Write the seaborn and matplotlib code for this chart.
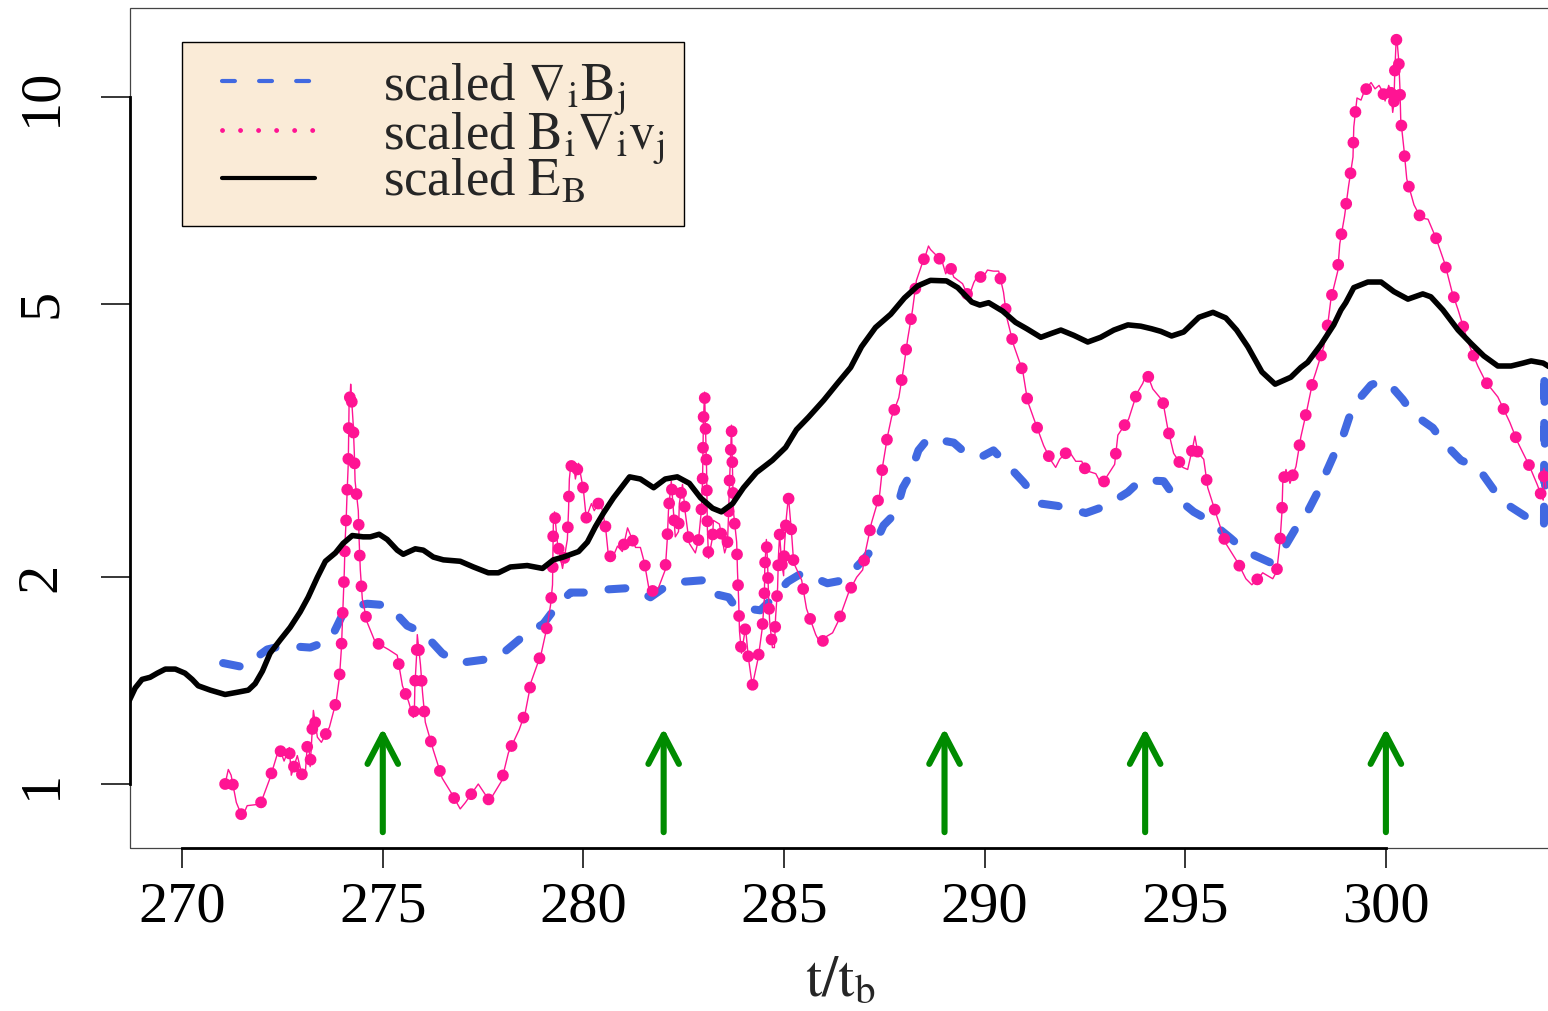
import matplotlib
matplotlib.use("Agg")
import matplotlib.pyplot as plt
import seaborn as sns
import pandas as pd
from matplotlib.lines import Line2D
from matplotlib.legend_handler import HandlerLine2D
from matplotlib.patches import FancyArrowPatch, Rectangle, ArrowStyle

# ---- scaled magnetic energy E_B ----
eb_t = [268.62, 268.83, 269.00, 269.20, 269.38, 269.58, 269.83, 270.07, 270.25, 270.40,
        270.70, 271.07, 271.37, 271.65, 271.82, 272.00, 272.19, 272.44, 272.69, 272.94,
        273.14, 273.37, 273.57, 273.82, 274.01, 274.24, 274.51, 274.69, 274.91, 275.11,
        275.36, 275.51, 275.81, 276.01, 276.26, 276.51, 276.93, 277.26, 277.63, 277.88,
        278.18, 278.60, 278.98, 279.25, 279.50, 279.88, 280.10, 280.30, 280.50, 280.75,
        281.15, 281.42, 281.75, 282.04, 282.34, 282.64, 282.92, 283.22, 283.44, 283.72,
        283.99, 284.31, 284.71, 285.04, 285.31, 285.61, 285.99, 286.33, 286.66, 286.93,
        287.28, 287.66, 288.00, 288.33, 288.65, 289.05, 289.33, 289.68, 289.88, 290.10,
        290.45, 290.77, 291.05, 291.40, 291.67, 291.90, 292.22, 292.57, 292.89, 293.22,
        293.57, 293.89, 294.16, 294.39, 294.66, 294.96, 295.34, 295.69, 296.01, 296.28,
        296.56, 296.91, 297.24, 297.63, 297.88, 298.05, 298.38, 298.70, 298.88, 299.00,
        299.20, 299.55, 299.88, 300.20, 300.55, 300.92, 301.12, 301.42, 301.80, 302.12,
        302.44, 302.79, 303.12, 303.42, 303.62, 303.92, 304.16]
eb_val = [1.30, 1.38, 1.42, 1.43, 1.45, 1.47, 1.47, 1.45, 1.42, 1.39,
          1.37, 1.35, 1.36, 1.37, 1.40, 1.46, 1.55, 1.62, 1.69, 1.78,
          1.87, 2.00, 2.11, 2.17, 2.24, 2.30, 2.29, 2.29, 2.31, 2.27,
          2.19, 2.16, 2.20, 2.19, 2.14, 2.12, 2.11, 2.07, 2.03, 2.03,
          2.07, 2.08, 2.06, 2.12, 2.14, 2.18, 2.25, 2.37, 2.48, 2.61,
          2.80, 2.78, 2.70, 2.78, 2.80, 2.74, 2.61, 2.52, 2.49, 2.56,
          2.70, 2.84, 2.96, 3.09, 3.28, 3.42, 3.62, 3.83, 4.04, 4.33,
          4.62, 4.83, 5.10, 5.31, 5.41, 5.40, 5.28, 5.03, 4.98, 5.02,
          4.88, 4.70, 4.60, 4.47, 4.53, 4.58, 4.50, 4.40, 4.47, 4.58,
          4.66, 4.64, 4.60, 4.56, 4.49, 4.55, 4.78, 4.86, 4.77, 4.58,
          4.33, 3.98, 3.82, 3.91, 4.04, 4.11, 4.36, 4.66, 4.90, 5.02,
          5.28, 5.38, 5.38, 5.21, 5.08, 5.17, 5.12, 4.90, 4.58, 4.38,
          4.20, 4.06, 4.06, 4.10, 4.13, 4.10, 4.02]

# ---- scaled grad_i B_j ----
gb_t = [271.02, 271.52, 272.12, 272.52, 273.19, 273.69, 274.01, 274.19, 274.61, 275.14,
        275.61, 276.01, 276.48, 276.88, 277.63, 278.05, 278.60, 279.00, 279.38, 279.68,
        280.17, 280.60, 281.22, 281.67, 282.22, 282.49, 282.99, 283.12, 283.62, 283.79,
        284.41, 284.66, 285.09, 285.46, 286.08, 286.48, 286.98, 287.23, 287.48, 287.78,
        287.96, 288.13, 288.35, 288.60, 289.23, 289.53, 289.90, 290.22, 290.70, 290.97,
        291.40, 291.82, 292.52, 293.02, 293.57, 293.89, 294.46, 294.71, 295.21, 295.59,
        296.13, 296.51, 297.13, 297.43, 297.76, 298.00, 298.30, 298.45, 298.70, 298.90,
        299.08, 299.25, 299.63, 299.88, 300.07, 300.42, 300.67, 301.17, 301.42, 301.87,
        302.29, 302.69, 302.94, 303.54, 303.94, 303.95, 303.97]
gb_val = [1.50, 1.48, 1.57, 1.59, 1.58, 1.62, 1.77, 1.81, 1.83, 1.82,
          1.70, 1.66, 1.55, 1.50, 1.52, 1.56, 1.66, 1.71, 1.83, 1.90,
          1.90, 1.92, 1.93, 1.87, 1.97, 1.97, 1.98, 1.90, 1.87, 1.81,
          1.79, 1.85, 1.97, 2.03, 1.96, 1.98, 2.12, 2.21, 2.38, 2.48,
          2.70, 2.81, 3.06, 3.19, 3.14, 3.03, 2.99, 3.06, 2.86, 2.75,
          2.56, 2.54, 2.48, 2.54, 2.66, 2.77, 2.76, 2.63, 2.49, 2.42,
          2.28, 2.18, 2.10, 2.19, 2.36, 2.46, 2.66, 2.79, 3.01, 3.17,
          3.41, 3.59, 3.81, 3.86, 3.83, 3.63, 3.46, 3.30, 3.15, 2.96,
          2.89, 2.68, 2.57, 2.44, 2.37, 4.00, 2.56]

# ---- scaled B_i grad_i v_j ----
bv_t = [271.07, 271.15, 271.22, 271.35, 271.50, 271.62, 271.95, 272.19, 272.42, 272.54,
        272.67, 272.72, 272.87, 272.99, 273.07, 273.12, 273.17, 273.19, 273.27, 273.37,
        273.47, 273.67, 273.84, 273.92, 273.97, 274.01, 274.04, 274.06, 274.09, 274.11,
        274.14, 274.15, 274.16, 274.19, 274.20, 274.26, 274.29, 274.31, 274.39, 274.41,
        274.44, 274.49, 274.61, 274.81, 275.14, 275.36, 275.49, 275.64, 275.76, 275.79,
        275.80, 275.84, 275.86, 275.94, 275.99, 276.06, 276.26, 276.48, 276.71, 276.93,
        277.06, 277.38, 277.66, 277.96, 278.13, 278.40, 278.55, 278.70, 278.95, 279.10,
        279.18, 279.23, 279.24, 279.25, 279.28, 279.35, 279.48, 279.60, 279.63, 279.65,
        279.68, 279.75, 279.80, 279.88, 280.00, 280.07, 280.20, 280.27, 280.42, 280.55,
        280.62, 280.72, 280.85, 280.97, 281.10, 281.30, 281.42, 281.52, 281.65, 281.87,
        282.04, 282.09, 282.12, 282.19, 282.24, 282.29, 282.37, 282.39, 282.47, 282.54,
        282.64, 282.79, 282.87, 282.94, 282.97, 282.98, 282.99, 283.02, 283.07, 283.09,
        283.12, 283.22, 283.24, 283.39, 283.52, 283.59, 283.62, 283.64, 283.67, 283.69,
        283.74, 283.82, 283.84, 283.87, 283.89, 283.94, 284.04, 284.11, 284.21, 284.36,
        284.46, 284.51, 284.52, 284.56, 284.59, 284.61, 284.64, 284.71, 284.76, 284.79,
        284.84, 284.86, 284.89, 284.94, 284.99, 285.01, 285.06, 285.09, 285.11, 285.19,
        285.24, 285.44, 285.56, 285.79, 285.91, 286.06, 286.21, 286.36, 286.61, 286.81,
        286.96, 287.03, 287.18, 287.38, 287.46, 287.58, 287.68, 287.86, 287.98, 288.08,
        288.20, 288.30, 288.45, 288.53, 288.60, 288.65, 288.85, 288.95, 289.03, 289.13,
        289.23, 289.45, 289.60, 289.73, 289.83, 289.95, 290.07, 290.22, 290.35, 290.47,
        290.55, 290.72, 290.95, 291.07, 291.22, 291.47, 291.65, 291.77, 291.87, 292.09,
        292.27, 292.42, 292.52, 292.77, 292.92, 293.04, 293.24, 293.32, 293.59, 293.79,
        293.94, 294.04, 294.19, 294.44, 294.56, 294.71, 294.94, 295.06, 295.19, 295.24,
        295.31, 295.46, 295.56, 295.79, 296.01, 296.31, 296.51, 296.66, 296.81, 296.93,
        297.18, 297.28, 297.36, 297.41, 297.43, 297.51, 297.61, 297.76, 297.88, 298.03,
        298.18, 298.25, 298.45, 298.55, 298.63, 298.80, 298.85, 298.97, 299.07, 299.18,
        299.20, 299.28, 299.38, 299.45, 299.63, 299.73, 299.83, 299.93, 299.98, 300.07,
        300.12, 300.17, 300.20, 300.22, 300.25, 300.27, 300.32, 300.35, 300.37, 300.45,
        300.52, 300.70, 300.87, 301.05, 301.25, 301.47, 301.65, 301.80, 302.04, 302.29,
        302.49, 302.79, 303.09, 303.29, 303.57, 303.77, 303.92, 303.94, 303.99]
bv_val = [1.00, 1.05, 1.03, 0.94, 0.895, 0.93, 0.935, 1.02, 1.13, 1.08,
          1.13, 1.03, 1.10, 1.03, 1.04, 1.14, 1.11, 1.06, 1.28, 1.17,
          1.15, 1.21, 1.32, 1.43, 1.58, 1.83, 2.03, 2.25, 2.45, 2.65,
          2.93, 3.23, 3.57, 3.71, 3.82, 3.36, 3.04, 2.76, 2.50, 2.27,
          2.05, 1.86, 1.72, 1.61, 1.57, 1.54, 1.39, 1.32, 1.25, 1.30,
          1.39, 1.53, 1.65, 1.49, 1.36, 1.23, 1.12, 1.02, 0.97, 0.92,
          0.94, 1.00, 0.945, 1.01, 1.11, 1.20, 1.27, 1.41, 1.55, 1.70,
          1.82, 1.95, 2.16, 2.38, 2.49, 2.25, 2.06, 2.27, 2.51, 2.78,
          2.89, 2.94, 2.78, 2.93, 2.68, 2.44, 2.56, 2.50, 2.59, 2.37,
          2.16, 2.13, 2.22, 2.18, 2.36, 2.21, 2.21, 2.10, 1.90, 1.93,
          2.05, 2.27, 2.50, 2.76, 2.52, 2.29, 2.33, 2.56, 2.73, 2.48,
          2.24, 2.17, 2.27, 2.50, 2.77, 3.04, 3.36, 3.72, 2.87, 2.35,
          2.13, 2.29, 2.42, 2.39, 2.17, 2.24, 2.49, 2.74, 3.03, 3.33,
          2.49, 2.25, 2.04, 1.85, 1.67, 1.55, 1.69, 1.53, 1.39, 1.53,
          1.69, 1.86, 2.06, 2.27, 2.10, 1.91, 1.73, 1.58, 1.58, 1.75,
          1.93, 2.14, 2.31, 2.10, 2.01, 2.22, 2.45, 2.55, 2.62, 2.31,
          2.10, 1.98, 1.80, 1.65, 1.60, 1.64, 1.66, 1.73, 1.90, 2.00,
          2.05, 2.18, 2.40, 2.63, 2.91, 3.21, 3.42, 3.65, 4.03, 4.44,
          4.89, 5.41, 5.74, 5.89, 6.07, 6.00, 5.84, 5.74, 5.53, 5.70,
          5.47, 5.35, 5.11, 5.37, 5.50, 5.45, 5.60, 5.58, 5.58, 5.20,
          4.78, 4.36, 3.99, 3.61, 3.41, 3.11, 2.96, 2.89, 2.97, 3.06,
          2.95, 2.95, 2.86, 2.83, 2.72, 2.80, 2.92, 3.22, 3.40, 3.70,
          3.83, 3.97, 3.76, 3.61, 3.30, 3.03, 2.89, 2.87, 3.10, 3.21,
          3.04, 2.97, 2.70, 2.45, 2.24, 2.10, 1.99, 1.95, 1.99, 2.03,
          1.99, 2.04, 2.25, 2.49, 2.74, 2.87, 2.74, 2.90, 3.20, 3.50,
          3.86, 3.97, 4.33, 4.66, 5.08, 5.58, 6.11, 6.71, 7.42, 8.18,
          9.05, 9.97, 9.90, 10.16, 10.50, 10.28, 10.40, 10.16, 9.87, 10.40,
          10.20, 9.50, 9.79, 10.80, 11.90, 12.25, 11.30, 10.30, 9.28, 8.40,
          7.60, 6.97, 6.67, 6.64, 6.23, 5.72, 5.20, 4.90, 4.41, 4.06,
          3.85, 3.66, 3.36, 3.14, 2.91, 2.73, 2.59, 2.88, 2.70]

# reconnection events marked by arrows
event_t = [275, 282, 289, 294, 300]

x_ticks = [270, 275, 280, 285, 290, 295, 300]
y_ticks = [1, 2, 5, 10]
y_ticklabels = ["1", "2", "5", "10"]

labels = [r"scaled $\mathrm{\nabla_i B_j}$",
          r"scaled $\mathrm{B_i \nabla_i v_j}$",
          r"scaled $\mathrm{E_B}$"]

BLUE = "#4169E1"
PINK = "#FF1493"
GREEN = "#008B00"

sns.set_theme(style="white")
plt.rcParams["font.family"] = ["Liberation Serif", "DejaVu Serif"]
plt.rcParams["mathtext.fontset"] = "stix"

df_eb = pd.DataFrame({"t": eb_t, "v": eb_val})
df_gb = pd.DataFrame({"t": gb_t, "v": gb_val})
df_bv = pd.DataFrame({"t": bv_t, "v": bv_val})

fig = plt.figure(figsize=(15.48, 10.11), dpi=100)
ax = fig.add_axes([130 / 1548, 163 / 1011, 1420 / 1548, 840 / 1011])
ax.set_yscale("log")

sns.lineplot(data=df_gb, x="t", y="v", ax=ax, sort=False, estimator=None,
             color=BLUE, lw=5.8, linestyle=(0, (2.1, 3.1)),
             dash_capstyle="round", dash_joinstyle="round", zorder=3)
sns.lineplot(data=df_bv, x="t", y="v", ax=ax, sort=False, estimator=None,
             color=PINK, lw=1.0, zorder=4)
sns.lineplot(data=df_bv, x="t", y="v", ax=ax, sort=False, estimator=None,
             color=PINK, lw=8.5, linestyle=(0, (0.01, 2.6)),
             dash_capstyle="round", zorder=4)
sns.lineplot(data=df_eb, x="t", y="v", ax=ax, sort=False, estimator=None,
             color="black", lw=4.0, solid_joinstyle="round",
             solid_capstyle="round", zorder=5)

for t in event_t:
    arr = FancyArrowPatch((t, 0.851), (t, 1.206),
                          arrowstyle=ArrowStyle("->", head_length=21, head_width=11),
                          mutation_scale=1, color=GREEN, lw=4.4,
                          capstyle="round", joinstyle="round",
                          shrinkA=0, shrinkB=0, zorder=6)
    ax.add_patch(arr)

ax.set_xlim(268.70, 304.09)
ax.set_ylim(0.807, 13.48)
ax.set_xticks(x_ticks)
ax.set_xticklabels([str(v) for v in x_ticks])
ax.set_yticks(y_ticks)
ax.set_yticklabels(y_ticklabels)
ax.yaxis.set_minor_locator(matplotlib.ticker.NullLocator())
ax.xaxis.set_minor_locator(matplotlib.ticker.NullLocator())

ax.tick_params(axis="x", length=14.4, width=1.1, pad=10, labelsize=42,
               direction="out", bottom=True, colors="black")
ax.tick_params(axis="y", length=21, width=1.1, pad=24, labelsize=42,
               direction="out", left=True, colors="black")
for lab in ax.get_yticklabels():
    lab.set_rotation(90)
    lab.set_va("center")

for side in ["top", "right"]:
    ax.spines[side].set_visible(False)
ax.spines["left"].set_bounds(1, 10)
ax.spines["bottom"].set_bounds(270, 300)
for side in ["left", "bottom"]:
    ax.spines[side].set_color("black")
    ax.spines[side].set_linewidth(2.0)
ax.add_patch(Rectangle((0, 0), 1, 1, transform=ax.transAxes, fill=False,
                       edgecolor="#444444", lw=0.9, clip_on=False, zorder=0.5))

ax.set_xlabel(r"$\mathrm{t/t_b}$", fontsize=42, labelpad=16)
ax.set_ylabel("")

handles = [
    Line2D([], [], color=BLUE, lw=3, linestyle=(0, (3.1, 5.8)), dash_capstyle="round"),
    Line2D([], [], color=PINK, lw=3.5, linestyle=(0, (0.01, 3.7)), dash_capstyle="round"),
    Line2D([], [], color="black", lw=3),
]
leg = ax.legend(handles, labels, loc="upper left", bbox_to_anchor=(0.0366, 0.9595),
                borderaxespad=0, fontsize=38, frameon=True, fancybox=False,
                edgecolor="black", facecolor="#FAEBD7", framealpha=1,
                handlelength=2.16, handletextpad=1.29, borderpad=0.36,
                labelspacing=-0.13,
                handler_map={Line2D: HandlerLine2D(xpad=0.4)})
leg.get_frame().set_linewidth(1.0)
leg.set_zorder(10)

fig.savefig("out.png", dpi=100)
